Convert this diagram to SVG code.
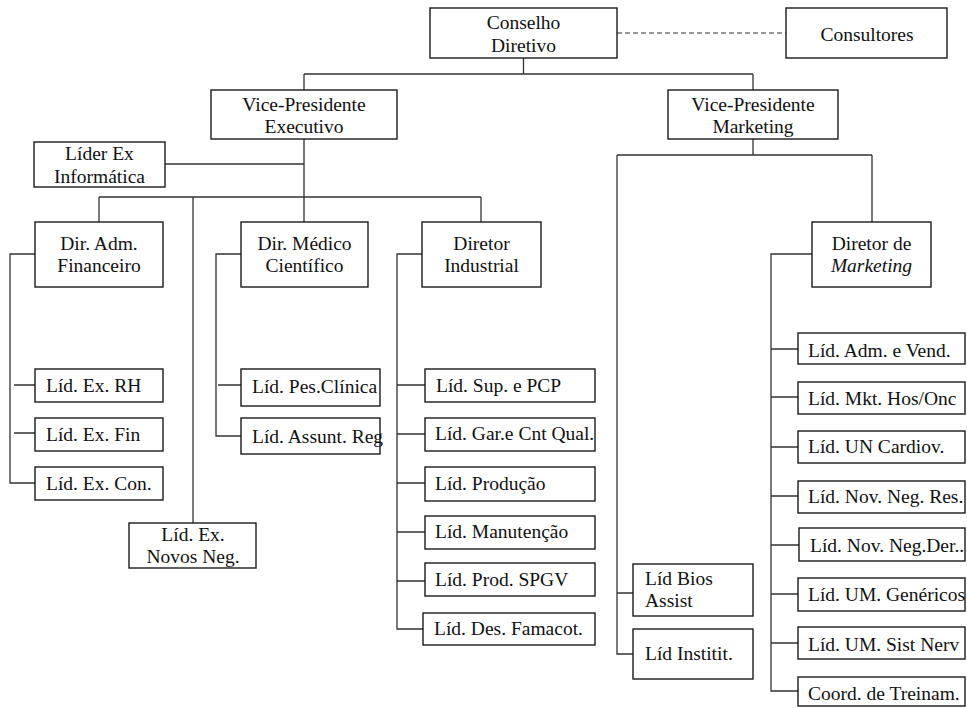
<svg xmlns="http://www.w3.org/2000/svg" width="967" height="708" viewBox="0 0 967 708">
  <style>
    .box { fill: #fff; stroke: #1a1a1a; stroke-width: 1.4; }
    .wire { fill: none; stroke: #333; stroke-width: 1.3; }
    .dash { fill: none; stroke: #333; stroke-width: 1.2; stroke-dasharray: 5 3; }
    text { font-family: "Liberation Serif", "Times New Roman", serif; font-size: 19.5px; fill: #111; }
    .c { text-anchor: middle; }
    .i { font-style: italic; }
  </style>
  <rect width="967" height="708" fill="#fff"/>

  <!-- connectors -->
  <g id="connectors">
    <path class="dash" d="M617 33 H786"/>
    <!-- board to vice-presidents -->
    <path class="wire" d="M523.5 58 V74 M304 74 H753 M304 74 V90 M753 74 V90"/>
    <!-- executive VP branch -->
    <path class="wire" d="M304 139 V197 M165 164 H304 M99 197 H481 M99 197 V222 M193 197 V523 M304 197 V222 M481 197 V222"/>
    <!-- finance leaders -->
    <path class="wire" d="M35 254 H10 V483 H35 M14 385 H35 M14 433 H35"/>
    <!-- medical leaders -->
    <path class="wire" d="M241 254 H216 V436 H241 M218 385 H241"/>
    <!-- industrial leaders -->
    <path class="wire" d="M422 254 H397 V629 H423 M397 385 H425 M397 434 H425 M397 483 H425 M397 532 H425 M397 581 H425"/>
    <!-- marketing VP branch -->
    <path class="wire" d="M753 139 V155 M617 155 H872 M872 155 V222 M617 155 V654 H633 M617 593 H633"/>
    <!-- marketing leaders -->
    <path class="wire" d="M812 254 H771 V691 H798 M771 349 H798 M771 397 H798 M771 447 H798 M771 496 H798 M771 545 H799 M771 594 H798 M771 643 H798"/>
  </g>

  <g id="conselho">
    <rect class="box" x="430" y="8" width="187" height="50"/>
    <text class="c" x="523.5" y="29">Conselho</text>
    <text class="c" x="523.5" y="52">Diretivo</text>
  </g>
  <g id="consultores">
    <rect class="box" x="786" y="8" width="161" height="50"/>
    <text class="c" x="867" y="41">Consultores</text>
  </g>

  <g id="vp-executivo">
    <rect class="box" x="211" y="90" width="186" height="49"/>
    <text class="c" x="304" y="111">Vice-Presidente</text>
    <text class="c" x="304" y="133">Executivo</text>
  </g>
  <g id="vp-marketing">
    <rect class="box" x="668" y="90" width="170" height="49"/>
    <text class="c" x="753" y="111">Vice-Presidente</text>
    <text class="c" x="753" y="133">Marketing</text>
  </g>

  <g id="lider-informatica">
    <rect class="box" x="34" y="142" width="131" height="45"/>
    <text class="c" x="99.5" y="160">Líder Ex</text>
    <text class="c" x="99.5" y="183">Informática</text>
  </g>

  <g id="dir-adm-financeiro">
    <rect class="box" x="35" y="222" width="128" height="65"/>
    <text class="c" x="99" y="250">Dir. Adm.</text>
    <text class="c" x="99" y="272">Financeiro</text>
  </g>
  <g id="lid-ex-rh">
    <rect class="box" x="35" y="369" width="128" height="33"/>
    <text x="46" y="392">Líd. Ex. RH</text>
  </g>
  <g id="lid-ex-fin">
    <rect class="box" x="35" y="418" width="128" height="33"/>
    <text x="46" y="441">Líd. Ex. Fin</text>
  </g>
  <g id="lid-ex-con">
    <rect class="box" x="35" y="467" width="128" height="33"/>
    <text x="46" y="490">Líd. Ex. Con.</text>
  </g>

  <g id="lid-ex-novos-neg">
    <rect class="box" x="129" y="523" width="127" height="45"/>
    <text class="c" x="193" y="541">Líd. Ex.</text>
    <text class="c" x="193" y="563">Novos Neg.</text>
  </g>

  <g id="dir-medico-cientifico">
    <rect class="box" x="241" y="222" width="127" height="65"/>
    <text class="c" x="304.5" y="250">Dir. Médico</text>
    <text class="c" x="304.5" y="272">Científico</text>
  </g>
  <g id="lid-pes-clinica">
    <rect class="box" x="241" y="369" width="139" height="37"/>
    <text x="252" y="393">Líd. Pes.Clínica</text>
  </g>
  <g id="lid-assunt-reg">
    <rect class="box" x="241" y="418" width="139" height="36"/>
    <text x="252" y="443">Líd. Assunt. Reg</text>
  </g>

  <g id="diretor-industrial">
    <rect class="box" x="422" y="222" width="119" height="65"/>
    <text class="c" x="481.5" y="250">Diretor</text>
    <text class="c" x="481.5" y="272">Industrial</text>
  </g>
  <g id="lid-sup-pcp">
    <rect class="box" x="425" y="369" width="170" height="33"/>
    <text x="436" y="392">Líd. Sup. e PCP</text>
  </g>
  <g id="lid-gar-cnt-qual">
    <rect class="box" x="425" y="418" width="170" height="33"/>
    <text x="435" y="440">Líd. Gar.e Cnt Qual.</text>
  </g>
  <g id="lid-producao">
    <rect class="box" x="425" y="467" width="170" height="34"/>
    <text x="435" y="490">Líd. Produção</text>
  </g>
  <g id="lid-manutencao">
    <rect class="box" x="425" y="516" width="170" height="33"/>
    <text x="435" y="538">Líd. Manutenção</text>
  </g>
  <g id="lid-prod-spgv">
    <rect class="box" x="425" y="563" width="170" height="33"/>
    <text x="435" y="586">Líd. Prod. SPGV</text>
  </g>
  <g id="lid-des-famacot">
    <rect class="box" x="423" y="613" width="172" height="32"/>
    <text x="434" y="635">Líd. Des. Famacot.</text>
  </g>

  <g id="lid-bios-assist">
    <rect class="box" x="633" y="564" width="120" height="52"/>
    <text x="645" y="585">Líd Bios</text>
    <text x="645" y="607">Assist</text>
  </g>
  <g id="lid-institit">
    <rect class="box" x="633" y="629" width="120" height="50"/>
    <text x="645" y="660">Líd Institit.</text>
  </g>

  <g id="diretor-marketing">
    <rect class="box" x="812" y="222" width="119" height="65"/>
    <text class="c" x="871.5" y="250">Diretor de</text>
    <text class="c i" x="871.5" y="272">Marketing</text>
  </g>
  <g id="lid-adm-vend">
    <rect class="box" x="798" y="333" width="167" height="31"/>
    <text x="808" y="357">Líd. Adm. e Vend.</text>
  </g>
  <g id="lid-mkt-hos-onc">
    <rect class="box" x="798" y="382" width="167" height="32"/>
    <text x="808" y="405">Líd. Mkt. Hos/Onc</text>
  </g>
  <g id="lid-un-cardiov">
    <rect class="box" x="798" y="431" width="167" height="32"/>
    <text x="808" y="453">Líd. UN Cardiov.</text>
  </g>
  <g id="lid-nov-neg-res">
    <rect class="box" x="798" y="481" width="167" height="32"/>
    <text x="808" y="503">Líd. Nov. Neg. Res.</text>
  </g>
  <g id="lid-nov-neg-der">
    <rect class="box" x="799" y="528" width="166" height="33"/>
    <text x="810" y="552">Líd. Nov. Neg.Der..</text>
  </g>
  <g id="lid-um-genericos">
    <rect class="box" x="798" y="578" width="167" height="33"/>
    <text x="808" y="601">Líd. UM. Genéricos</text>
  </g>
  <g id="lid-um-sist-nerv">
    <rect class="box" x="798" y="627" width="167" height="32"/>
    <text x="808" y="651">Líd. UM. Sist Nerv</text>
  </g>
  <g id="coord-treinam">
    <rect class="box" x="798" y="677" width="167" height="29"/>
    <text x="808" y="700">Coord. de Treinam.</text>
  </g>
</svg>
